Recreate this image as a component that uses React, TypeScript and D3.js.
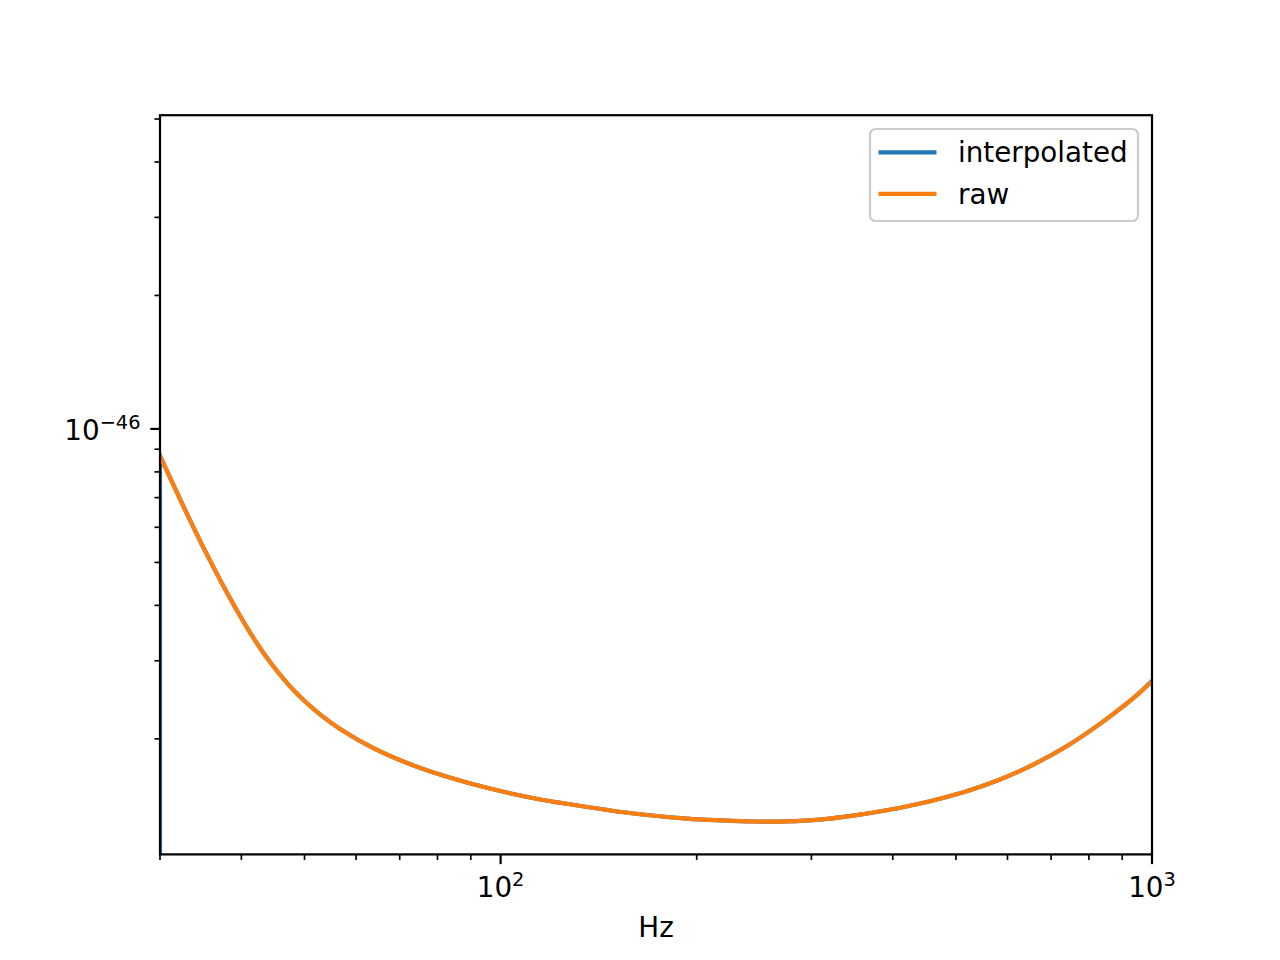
import React from "react";
import * as d3 from "d3";

// Raw PSD samples (Hz, strain^2/Hz)
const rawFreq = [
  30, 31.6, 33.2, 35.2, 37.3, 39.6, 42.0, 44.5, 47.2, 50.1, 53.1, 56.7, 63.8, 71.7,
  80.7, 90.8, 102.2, 115.0, 129.3, 145.5, 163.7, 193.1, 217.2, 244.3, 274.9, 309.3,
  347.8, 391.4, 440.4, 519.4, 584.3, 657.2, 739.6, 832.0, 936.1, 1000,
];
const rawValue = [
  8.70e-47, 7.37e-47, 6.32e-47, 5.30e-47, 4.50e-47, 3.84e-47, 3.33e-47, 2.95e-47,
  2.655e-47, 2.427e-47, 2.257e-47, 2.106e-47, 1.905e-47, 1.766e-47, 1.661e-47, 1.579e-47,
  1.513e-47, 1.46e-47, 1.42e-47, 1.383e-47, 1.352e-47, 1.322e-47, 1.31e-47, 1.302e-47,
  1.303e-47, 1.315e-47, 1.342e-47, 1.38e-47, 1.429e-47, 1.524e-47, 1.619e-47,
  1.75e-47, 1.925e-47, 2.162e-47, 2.47e-47, 2.70e-47,
];
// Interpolated series: drops off at the first sample, otherwise identical
const interpFreq = [30, ...rawFreq];
const interpValue = [1e-49, ...rawValue];

const xMajor = [100, 1000];
const xMajorExp = ["2", "3"];
const xMinor = [30, 40, 50, 60, 70, 80, 90, 200, 300, 400, 500, 600, 700, 800, 900];
const yMajor = [1e-46];
const yMajorExp = ["\u221246"];
const yMinor = [2e-47, 3e-47, 4e-47, 5e-47, 6e-47, 7e-47, 8e-47, 9e-47, 2e-46, 3e-46, 4e-46, 5e-46];

const legendItems = ["interpolated", "raw"];
const colors = ["#1f77b4", "#ff7f0e"];

const W = 1280, H = 960;
const L = 160, R = 1152, T = 115.2, B = 854.4;
const FS = 27.78;
const SUP = 19.4;

export default function App() {
  const x = d3.scaleLog().domain([30, 1000]).range([L, R]);
  const y = d3.scaleLog().domain([1.0975e-47, 5.1e-46]).range([B, T]);
  const smooth = d3
    .line<[number, number]>()
    .x((d) => x(d[0]))
    .y((d) => y(d[1]))
    .curve(d3.curveCatmullRom.alpha(0.5));
  const straight = d3
    .line<[number, number]>()
    .x((d) => x(d[0]))
    .y((d) => y(d[1]));
  const interpPts = interpFreq.map((f, i) => [f, interpValue[i]]) as [number, number][];
  const interpPath = (straight(interpPts.slice(0, 2)) || "") + (smooth(interpPts.slice(1)) || "");
  const rawPath = smooth(rawFreq.map((f, i) => [f, rawValue[i]]) as [number, number][]) || "";

  const majorLen = 9.72, minorLen = 5.56, pad = 9.72;

  return (
    <svg
      width={W}
      height={H}
      style={{ position: "absolute", left: 0, top: 0, background: "#fff" }}
      fontFamily="DejaVu Sans"
    >
      <rect x={0} y={0} width={W} height={H} fill="#fff" />
      <defs>
        <clipPath id="plotclip">
          <rect x={L} y={T} width={R - L} height={B - T} />
        </clipPath>
      </defs>
      <g clipPath="url(#plotclip)" fill="none" strokeWidth={4.17} strokeLinejoin="round" strokeLinecap="square">
        <path d={interpPath} stroke={colors[0]} />
        <path d={rawPath} stroke={colors[1]} />
      </g>
      {/* spines */}
      <rect x={L} y={T} width={R - L} height={B - T} fill="none" stroke="#000" strokeWidth={2.22} />
      {/* x ticks */}
      {xMinor.map((v) => (
        <line key={"xm" + v} x1={x(v)} x2={x(v)} y1={B} y2={B + minorLen} stroke="#000" strokeWidth={1.67} />
      ))}
      {xMajor.map((v, i) => (
        <g key={"xM" + v}>
          <line x1={x(v)} x2={x(v)} y1={B} y2={B + majorLen} stroke="#000" strokeWidth={2.22} />
          <text x={x(v)} y={896.7} textAnchor="middle" fontSize={FS} fill="#000">
            10
            <tspan fontSize={SUP} dy={-10.5}>
              {xMajorExp[i]}
            </tspan>
          </text>
        </g>
      ))}
      {/* y ticks */}
      {yMinor.map((v) => (
        <line key={"ym" + v} x1={L - minorLen} x2={L} y1={y(v)} y2={y(v)} stroke="#000" strokeWidth={1.67} />
      ))}
      {yMajor.map((v, i) => (
        <g key={"yM" + v}>
          <line x1={L - majorLen} x2={L} y1={y(v)} y2={y(v)} stroke="#000" strokeWidth={2.22} />
          <text x={L - majorLen - pad} y={y(v) + 11.5} textAnchor="end" fontSize={FS} fill="#000">
            10
            <tspan fontSize={SUP} dy={-11.5}>
              {yMajorExp[i]}
            </tspan>
          </text>
        </g>
      ))}
      <text x={(L + R) / 2} y={936.7} textAnchor="middle" fontSize={FS} fill="#000">
        Hz
      </text>
      {/* legend */}
      <g>
        <rect x={870} y={129} width={268} height={92} rx={5.6} ry={5.6} fill="#fff" fillOpacity={0.8} stroke="#cccccc" strokeWidth={2.2} />
        {legendItems.map((name, i) => (
          <g key={name}>
            <line x1={878.5} x2={936.5} y1={152.3 + i * 41.5} y2={152.3 + i * 41.5} stroke={colors[i]} strokeWidth={4.17} />
            <text x={958} y={162.3 + i * 41.5} fontSize={FS} fill="#000">
              {name}
            </text>
          </g>
        ))}
      </g>
    </svg>
  );
}
